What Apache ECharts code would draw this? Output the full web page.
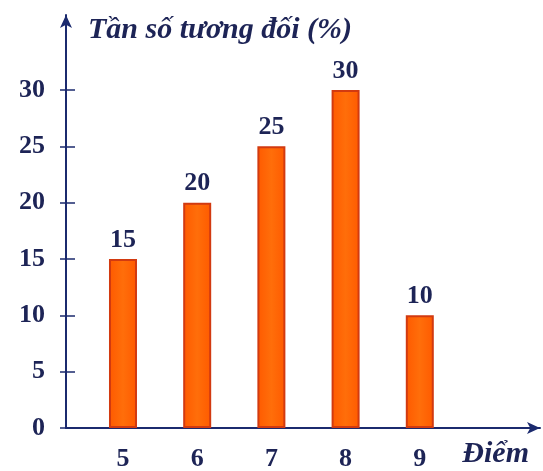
<!DOCTYPE html>
<html>
<head>
<meta charset="utf-8">
<script src="https://cdn.jsdelivr.net/npm/echarts@6/dist/echarts.min.js"></script>
<style>
  html, body { margin: 0; padding: 0; background: #fff; }
  #chart { width: 543px; height: 471px; }
</style>
</head>
<body>
<div id="chart"></div>
<script>
// diem (score) and relative frequency in %
var scores = [5, 6, 7, 8, 9];
var freqs = [15, 20, 25, 30, 10];
var yTicks = [0, 5, 10, 15, 20, 25, 30];

var navy = '#1d2456';
var axisColor = '#1b2a6e';
var serif = '"Liberation Serif", "DejaVu Serif", serif';

var chart = echarts.init(document.getElementById('chart'));

var barData = scores.map(function (s, i) { return [s, freqs[i]]; });

var option = {
    animation: false,
    backgroundColor: '#ffffff',
    grid: { left: 66, right: 3, top: 15, bottom: 43, outerBoundsMode: 'none' },
    xAxis: {
        type: 'value',
        min: 4.232,
        max: 10.62,
        name: 'Điểm',
        nameLocation: 'end',
        nameGap: -11,
        nameTextStyle: {
            color: navy, fontFamily: serif, fontStyle: 'italic', fontWeight: 'bold',
            fontSize: 30, align: 'right', verticalAlign: 'top', padding: [11, 0, 0, 0]
        },
        axisLine: {
            lineStyle: { color: axisColor, width: 2 },
            symbol: ['none', 'arrow'], symbolSize: [9, 13]
        },
        axisTick: { show: false },
        splitLine: { show: false },
        axisLabel: {
            customValues: scores,
            color: navy, fontFamily: serif, fontWeight: 'bold', fontSize: 26, margin: 18
        }
    },
    yAxis: [{
        type: 'value',
        min: 0,
        max: 36.66,
        name: 'Tần số tương đối (%)',
        nameLocation: 'end',
        nameGap: -15,
        nameTextStyle: {
            color: navy, fontFamily: serif, fontStyle: 'italic', fontWeight: 'bold',
            fontSize: 30, align: 'left', verticalAlign: 'middle', padding: [0, 0, 0, 22]
        },
        axisLine: {
            show: true,
            lineStyle: { color: axisColor, width: 2 },
            symbol: ['none', 'arrow'], symbolSize: [9, 13]
        },
        axisTick: { show: true, customValues: yTicks, length: 6, lineStyle: { color: axisColor, width: 1.5 } },
        splitLine: { show: false },
        axisLabel: {
            customValues: yTicks,
            color: navy, fontFamily: serif, fontWeight: 'bold', fontSize: 26, margin: 21
        }
    }, {
        type: 'value',
        min: 0,
        max: 36.66,
        position: 'left',
        axisLine: { show: false },
        axisTick: { show: true, inside: true, customValues: yTicks, length: 9, lineStyle: { color: axisColor, width: 1.5 } },
        axisLabel: { show: false },
        splitLine: { show: false }
    }],
    series: [{
        type: 'bar',
        data: barData,
        barWidth: 28,
        itemStyle: {
            color: {
                type: 'linear', x: 0, y: 0, x2: 1, y2: 0,
                colorStops: [
                    { offset: 0, color: '#ff5a00' },
                    { offset: 0.5, color: '#ff6e0a' },
                    { offset: 1, color: '#ff5a00' }
                ]
            },
            borderColor: '#d23a10',
            borderWidth: 2
        },
        label: {
            show: true,
            position: 'top',
            distance: 6,
            color: navy,
            fontFamily: serif,
            fontWeight: 'bold',
            fontSize: 26
        }
    }]
};

chart.setOption(option);
</script>
</body>
</html>
